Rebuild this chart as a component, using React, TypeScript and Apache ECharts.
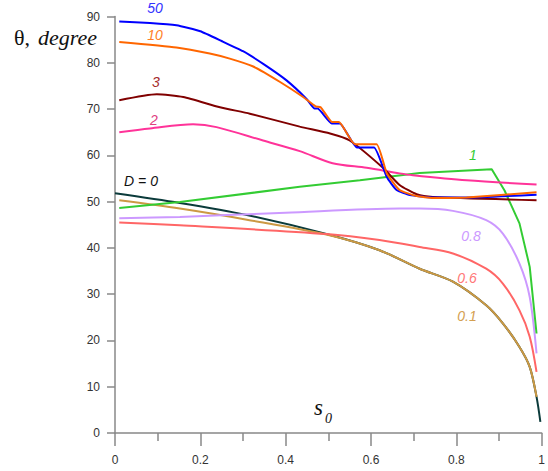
import React, { useEffect, useRef } from "react";
import * as echarts from "echarts";

const xTicks = ["0", "0.2", "0.4", "0.6", "0.8", "1"];

const d0: number[][] = [[0, 51.8], [0.152, 49.7], [0.309, 47.1], [0.5, 42.9], [0.62, 39.5], [0.714, 35.5], [0.792, 32.7], [0.87, 27.6], [0.909, 23.7], [0.948, 18.6], [0.972, 14.3], [0.988, 7.8], [0.997, 2.4]];
const d01: number[][] = [[0.01, 50.3], [0.152, 48.5], [0.309, 46.1], [0.5, 42.8], [0.62, 39.5], [0.714, 35.5], [0.792, 32.7], [0.87, 27.6], [0.909, 23.7], [0.948, 18.6], [0.972, 14.3], [0.988, 7.8]];
const d06: number[][] = [[0.01, 45.5], [0.152, 44.9], [0.496, 43.0], [0.62, 41.7], [0.714, 40.2], [0.792, 38.8], [0.87, 35.5], [0.909, 32.3], [0.948, 26.5], [0.972, 20.8], [0.988, 13.2]];
const d08: number[][] = [[0.01, 46.4], [0.152, 46.7], [0.4, 47.6], [0.667, 48.5], [0.714, 48.5], [0.792, 48.0], [0.87, 46.0], [0.909, 43.1], [0.948, 36.6], [0.972, 29.4], [0.988, 17.2]];
const d1: number[][] = [[0.01, 48.6], [0.152, 49.9], [0.433, 53.2], [0.574, 54.6], [0.714, 56.2], [0.883, 57.0], [0.913, 52.4], [0.948, 45.3], [0.972, 35.9], [0.988, 21.5]];
const d2: number[][] = [[0.01, 65.0], [0.082, 65.8], [0.183, 66.7], [0.238, 66.1], [0.347, 63.2], [0.433, 60.9], [0.51, 58.3], [0.59, 57.3], [0.667, 56.1], [0.698, 55.7], [0.824, 54.6], [0.988, 53.7]];
const d3: number[][] = [[0.01, 71.9], [0.098, 73.2], [0.16, 72.6], [0.246, 70.4], [0.316, 69.0], [0.433, 66.2], [0.504, 64.7], [0.55, 63.2], [0.628, 57.3], [0.667, 53.6], [0.707, 51.6], [0.745, 51.0], [0.988, 50.3]];
const d10: number[][] = [[0.01, 84.5], [0.144, 83.3], [0.222, 82.0], [0.269, 80.9], [0.324, 79.2], [0.386, 75.9], [0.441, 72.6], [0.47, 70.6], [0.482, 70.4], [0.509, 67.2], [0.525, 67.2], [0.562, 62.4], [0.613, 62.4], [0.637, 56.1], [0.667, 52.5], [0.707, 51.2], [0.745, 50.8], [0.824, 50.9], [0.988, 52.0]];
const d50: number[][] = [[0.01, 88.9], [0.082, 88.6], [0.144, 88.1], [0.2, 86.8], [0.25, 84.7], [0.3, 82.5], [0.35, 79.6], [0.402, 76.2], [0.449, 72.2], [0.468, 70.1], [0.475, 70.1], [0.508, 66.9], [0.527, 66.9], [0.567, 61.7], [0.607, 61.7], [0.637, 55.3], [0.66, 52.5], [0.691, 51.4], [0.745, 50.9], [0.824, 50.9], [0.988, 51.5]];

const seriesDefs = [
  { name: "D = 0", data: d0, color: "#0b3b3b", smooth: 0.3 },
  { name: "0.1", data: d01, color: "#cc9944", smooth: 0.3 },
  { name: "0.6", data: d06, color: "#ff6666", smooth: 0.3 },
  { name: "0.8", data: d08, color: "#cc99ff", smooth: 0.3 },
  { name: "1", data: d1, color: "#33cc33", smooth: false },
  { name: "2", data: d2, color: "#ff3399", smooth: 0.3 },
  { name: "3", data: d3, color: "#800000", smooth: 0.2 },
  { name: "50", data: d50, color: "#0000ff", smooth: 0.15 },
  { name: "10", data: d10, color: "#ff6600", smooth: 0.15 },
];

const curveLabels = [
  { text: "50", x: 155, y: 8, color: "#3333ff" },
  { text: "10", x: 155, y: 35, color: "#ff7f27" },
  { text: "3", x: 156, y: 82, color: "#a52a2a" },
  { text: "2", x: 154, y: 120, color: "#e0407f" },
  { text: "D = 0", x: 141, y: 181, color: "#111111" },
  { text: "1", x: 473, y: 155, color: "#33cc33" },
  { text: "0.8", x: 471, y: 236, color: "#cc99ff" },
  { text: "0.6", x: 467, y: 278, color: "#ff7777" },
  { text: "0.1", x: 467, y: 316, color: "#d4a050" },
];

const serif = "Liberation Serif, Times New Roman, serif";

export default function App() {
  const ref = useRef<HTMLDivElement>(null);
  useEffect(() => {
    if (!ref.current) return;
    const chart = echarts.init(ref.current, undefined, { renderer: "svg" });
    const axisColor = "#888888";
    chart.setOption({
      animation: false,
      backgroundColor: "#ffffff",
      grid: { left: 115, right: 6, top: 16.5, bottom: 38 },
      xAxis: {
        type: "value",
        min: 0,
        max: 1,
        interval: 0.2,
        axisLine: { lineStyle: { color: axisColor, width: 1.5 } },
        axisTick: { length: 13, lineStyle: { color: axisColor, width: 1.5 } },
        minorTick: { show: true, splitNumber: 2, length: 8, lineStyle: { color: axisColor, width: 1.5 } },
        splitLine: { show: false },
        axisLabel: {
          margin: 21,
          fontSize: 12,
          color: "#333333",
          fontFamily: "Liberation Sans, Arial, sans-serif",
          formatter: (v: number) => xTicks[Math.round(v / 0.2)] ?? String(v),
        },
      },
      yAxis: {
        type: "value",
        min: 0,
        max: 90,
        interval: 10,
        axisLine: { show: true, lineStyle: { color: axisColor, width: 1.5 } },
        axisTick: { show: true, length: 8, lineStyle: { color: axisColor, width: 1.5 } },
        splitLine: { show: false },
        axisLabel: {
          margin: 15,
          fontSize: 12,
          color: "#333333",
          fontFamily: "Liberation Sans, Arial, sans-serif",
        },
      },
      series: seriesDefs.map((s) => ({
        type: "line",
        name: s.name,
        data: s.data,
        smooth: s.smooth,
        showSymbol: false,
        symbol: "none",
        lineStyle: { color: s.color, width: 2 },
        itemStyle: { color: s.color },
      })),
      graphic: [
        {
          type: "text",
          x: 14,
          y: 48,
          style: {
            text: "θ,",
            fontSize: 22,
            fontFamily: serif,
            fill: "#111111",
            verticalAlign: "bottom",
          },
        },
        {
          type: "text",
          x: 38,
          y: 48,
          style: {
            text: "degree",
            fontSize: 22,
            fontStyle: "italic",
            fontFamily: serif,
            fill: "#111111",
            verticalAlign: "bottom",
          },
        },
        {
          type: "text",
          x: 314,
          y: 419,
          style: {
            text: "s",
            fontSize: 23,
            fontStyle: "italic",
            fontFamily: serif,
            fill: "#111111",
            verticalAlign: "bottom",
          },
        },
        {
          type: "text",
          x: 325,
          y: 425,
          style: {
            text: "0",
            fontSize: 14,
            fontStyle: "italic",
            fontFamily: serif,
            fill: "#111111",
            verticalAlign: "bottom",
          },
        },
        ...curveLabels.map((l) => ({
          type: "text",
          x: l.x,
          y: l.y,
          style: {
            text: l.text,
            fontSize: 14,
            fontStyle: "italic",
            fontFamily: "Liberation Sans, Arial, sans-serif",
            fill: l.color,
            align: "center",
            verticalAlign: "middle",
          },
        })),
      ],
    });
    return () => chart.dispose();
  }, []);
  return <div ref={ref} style={{ position: "fixed", left: 0, top: 0, width: 548, height: 471 }} />;
}
